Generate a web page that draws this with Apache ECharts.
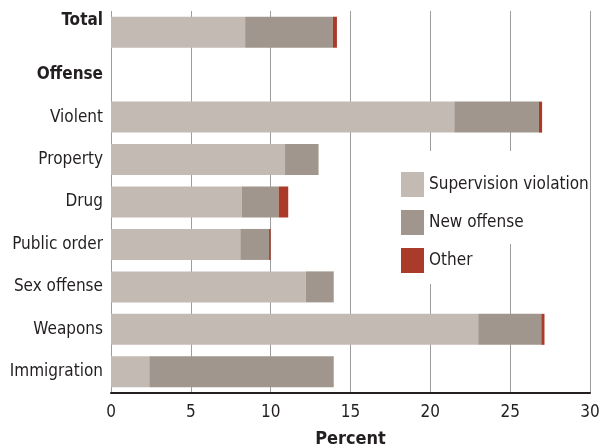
<!DOCTYPE html>
<html>
<head>
<meta charset="utf-8">
<script src="https://cdn.jsdelivr.net/npm/echarts@6/dist/echarts.min.js"></script>
<style>
  html, body { margin: 0; padding: 0; background: #fff; }
  #main { width: 600px; height: 448px; }
</style>
</head>
<body>
<div id="main"></div>
<script>
var categories = ['Total', 'Offense', 'Violent', 'Property', 'Drug', 'Public order', 'Sex offense', 'Weapons', 'Immigration'];
var supervision = [8.4, null, 21.5, 10.9, 8.2, 8.1, 12.2, 23.0, 2.4];
var newOffense = [5.5, null, 5.3, 2.1, 2.3, 1.8, 1.75, 3.95, 11.55];
var other = [0.25, null, 0.2, 0, 0.6, 0.1, 0, 0.2, 0];
var xTicks = [0, 5, 10, 15, 20, 25, 30];

var font = '"DejaVu Sans Condensed", "Liberation Sans", sans-serif';
var chart = echarts.init(document.getElementById('main'));

var option = {
  animation: false,
  grid: { left: 111, right: 10, top: 11, height: 382, outerBoundsMode: 'none' },
  xAxis: {
    type: 'value',
    min: xTicks[0],
    max: xTicks[xTicks.length - 1],
    interval: 5,
    name: 'Percent',
    nameLocation: 'middle',
    nameGap: 37,
    nameTextStyle: { fontFamily: font, fontSize: 18, fontWeight: 'bold', color: '#231f20' },
    axisLine: { show: true, lineStyle: { color: '#231f20', width: 2 } },
    axisTick: { show: false },
    axisLabel: { fontFamily: font, fontSize: 17, color: '#231f20', margin: 11 },
    splitLine: { show: true, lineStyle: { color: '#9d9d9d', width: 1 } }
  },
  yAxis: {
    type: 'category',
    data: categories,
    inverse: true,
    axisLine: { show: false },
    axisTick: { show: false },
    axisLabel: {
      fontFamily: font, fontSize: 17, color: '#231f20', margin: 8,
      formatter: function (v) {
        if (v === 'Total') return '{t|' + v + '}';
        if (v === 'Offense') return '{b|' + v + '}';
        return v;
      },
      rich: {
        t: { fontFamily: font, fontSize: 17, fontWeight: 'bold', color: '#231f20', padding: [0, 0, 24, 0] },
        b: { fontFamily: font, fontSize: 17, fontWeight: 'bold', color: '#231f20' }
      }
    }
  },
  legend: {
    orient: 'vertical',
    left: 401,
    top: 172,
    padding: 0,
    itemWidth: 23,
    itemHeight: 25,
    itemGap: 13,
    icon: 'rect',
    textStyle: { fontFamily: font, fontSize: 17, color: '#231f20' },
    data: ['Supervision violation', 'New offense', 'Other']
  },
  graphic: [
    { type: 'rect', z: 1, shape: { x: 395, y: 151, width: 192, height: 93 }, style: { fill: '#fff' } },
    { type: 'rect', z: 1, shape: { x: 425, y: 244, width: 52, height: 40 }, style: { fill: '#fff' } }
  ],
  series: [
    { name: 'Supervision violation', type: 'bar', stack: 'a', barWidth: 31, data: supervision, itemStyle: { color: '#c3bab4' } },
    { name: 'New offense', type: 'bar', stack: 'a', barWidth: 31, data: newOffense, itemStyle: { color: '#a0968d' } },
    { name: 'Other', type: 'bar', stack: 'a', barWidth: 31, data: other, itemStyle: { color: '#aa3a2a' } }
  ]
};

chart.setOption(option);
</script>
</body>
</html>
